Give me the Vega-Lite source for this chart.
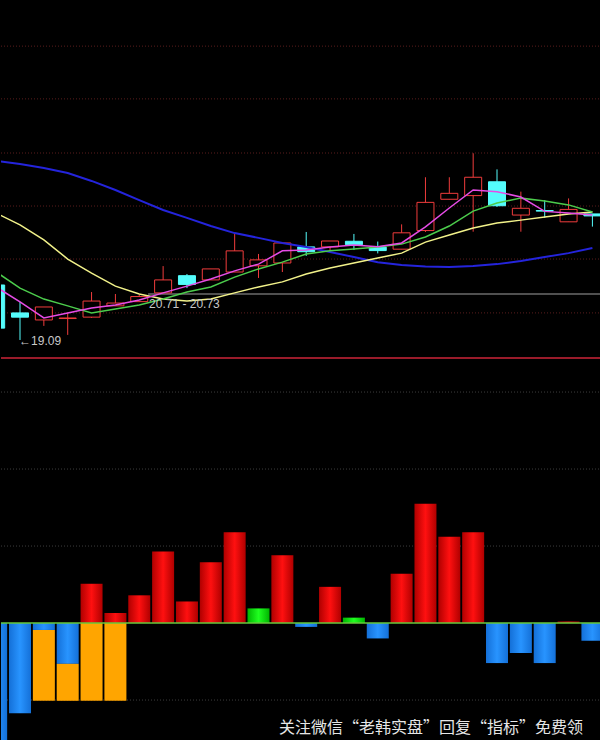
{
  "$schema": "https://vega.github.io/schema/vega-lite/v6.json",
  "background": "#000000",
  "padding": 0,
  "spacing": 0,
  "config": {"view": {"stroke": null}, "scale": {"continuousPadding": 0}},
  "datasets": {
    "k": [
      {"i":0,"o":21.04,"h":21.11,"l":19.44,"c":19.51,"m1":20.97,"m2":21.50,"m3":23.59,"m4":25.44},
      {"i":1,"o":20.05,"h":20.44,"l":19.09,"c":19.90,"m1":20.44,"m2":20.93,"m3":23.17,"m4":25.33},
      {"i":2,"o":19.80,"h":20.26,"l":19.59,"c":20.26,"m1":19.87,"m2":20.54,"m3":22.64,"m4":25.19},
      {"i":3,"o":19.85,"h":20.05,"l":19.27,"c":19.87,"m1":20.05,"m2":20.30,"m3":21.96,"m4":25.01},
      {"i":4,"o":19.90,"h":20.79,"l":19.87,"c":20.47,"m1":20.22,"m2":20.05,"m3":21.46,"m4":24.73},
      {"i":5,"o":20.30,"h":20.72,"l":20.30,"c":20.40,"m1":20.33,"m2":20.19,"m3":21.00,"m4":24.41},
      {"i":6,"o":20.45,"h":20.69,"l":20.44,"c":20.63,"m1":20.51,"m2":20.33,"m3":20.72,"m4":24.05},
      {"i":7,"o":20.76,"h":21.71,"l":20.76,"c":21.22,"m1":20.76,"m2":20.54,"m3":20.54,"m4":23.70},
      {"i":8,"o":21.37,"h":21.43,"l":20.93,"c":21.06,"m1":21.00,"m2":20.79,"m3":20.47,"m4":23.42},
      {"i":9,"o":21.22,"h":21.61,"l":21.22,"c":21.61,"m1":21.25,"m2":20.97,"m3":20.54,"m4":23.13},
      {"i":10,"o":21.50,"h":22.85,"l":21.50,"c":22.25,"m1":21.54,"m2":21.32,"m3":20.76,"m4":22.88},
      {"i":11,"o":21.72,"h":22.14,"l":21.29,"c":21.93,"m1":21.78,"m2":21.61,"m3":20.97,"m4":22.71},
      {"i":12,"o":21.82,"h":22.53,"l":21.50,"c":22.53,"m1":22.25,"m2":21.85,"m3":21.15,"m4":22.53},
      {"i":13,"o":22.39,"h":22.92,"l":22.07,"c":22.22,"m1":22.28,"m2":22.14,"m3":21.43,"m4":22.39},
      {"i":14,"o":22.39,"h":22.60,"l":22.28,"c":22.60,"m1":22.39,"m2":22.25,"m3":21.64,"m4":22.21},
      {"i":15,"o":22.59,"h":22.85,"l":22.28,"c":22.47,"m1":22.46,"m2":22.32,"m3":21.82,"m4":22.03},
      {"i":16,"o":22.38,"h":22.58,"l":22.16,"c":22.26,"m1":22.40,"m2":22.39,"m3":22.00,"m4":21.85},
      {"i":17,"o":22.31,"h":23.19,"l":22.31,"c":22.89,"m1":22.53,"m2":22.49,"m3":22.17,"m4":21.75},
      {"i":18,"o":22.97,"h":24.86,"l":22.92,"c":23.97,"m1":23.10,"m2":22.74,"m3":22.56,"m4":21.70},
      {"i":19,"o":24.08,"h":24.86,"l":24.08,"c":24.29,"m1":23.77,"m2":23.13,"m3":22.81,"m4":21.68},
      {"i":20,"o":24.21,"h":25.71,"l":22.93,"c":24.86,"m1":24.41,"m2":23.66,"m3":23.06,"m4":21.71},
      {"i":21,"o":24.70,"h":25.14,"l":23.81,"c":23.85,"m1":24.35,"m2":23.95,"m3":23.24,"m4":21.78},
      {"i":22,"o":23.52,"h":24.35,"l":22.93,"c":23.76,"m1":24.16,"m2":24.12,"m3":23.34,"m4":21.89},
      {"i":23,"o":23.68,"h":24.05,"l":23.42,"c":23.66,"m1":23.65,"m2":24.02,"m3":23.45,"m4":22.03},
      {"i":24,"o":23.28,"h":24.11,"l":23.28,"c":23.72,"m1":23.59,"m2":23.88,"m3":23.56,"m4":22.17},
      {"i":25,"o":23.56,"h":23.56,"l":23.11,"c":23.49,"m1":23.52,"m2":23.63,"m3":23.63,"m4":22.35}
    ],
    "grid1": [{"p":29.51},{"p":27.64},{"p":25.72},{"p":23.84},{"p":21.96},{"p":20.05}],
    "grid2": [{"v":3},{"v":2},{"v":1},{"v":-1}],
    "bars": [
      {"i":0,"a":0,"b":-1.6,"k":"blue"},
      {"i":1,"a":0,"b":-1.17,"k":"blue"},
      {"i":2,"a":0,"b":-0.09,"k":"blue"},
      {"i":2,"a":-0.09,"b":-1.01,"k":"orange"},
      {"i":3,"a":0,"b":-0.53,"k":"blue"},
      {"i":3,"a":-0.53,"b":-1.01,"k":"orange"},
      {"i":4,"a":0,"b":-1.01,"k":"orange"},
      {"i":4,"a":0,"b":0.51,"k":"red"},
      {"i":5,"a":0,"b":-1.01,"k":"orange"},
      {"i":5,"a":0,"b":0.13,"k":"red"},
      {"i":6,"a":0,"b":0.36,"k":"red"},
      {"i":7,"a":0,"b":0.93,"k":"red"},
      {"i":8,"a":0,"b":0.28,"k":"red"},
      {"i":9,"a":0,"b":0.79,"k":"red"},
      {"i":10,"a":0,"b":1.18,"k":"red"},
      {"i":11,"a":0,"b":0.19,"k":"green"},
      {"i":12,"a":0,"b":0.88,"k":"red"},
      {"i":13,"a":0,"b":-0.05,"k":"blue"},
      {"i":14,"a":0,"b":0.47,"k":"red"},
      {"i":15,"a":0,"b":0.07,"k":"green"},
      {"i":16,"a":0,"b":-0.2,"k":"blue"},
      {"i":17,"a":0,"b":0.64,"k":"red"},
      {"i":18,"a":0,"b":1.55,"k":"red"},
      {"i":19,"a":0,"b":1.12,"k":"red"},
      {"i":20,"a":0,"b":1.18,"k":"red"},
      {"i":21,"a":0,"b":-0.52,"k":"blue"},
      {"i":22,"a":0,"b":-0.39,"k":"blue"},
      {"i":23,"a":0,"b":-0.52,"k":"blue"},
      {"i":24,"a":0,"b":0.02,"k":"red"},
      {"i":25,"a":0,"b":-0.23,"k":"blue"}
    ]
  },
  "vconcat": [
    {
      "width": 600,
      "height": 360,
      "layer": [
        {
          "data": {"name": "grid1"},
          "mark": {"type": "rule", "color": "#5a1c1c", "strokeDash": [1, 2], "strokeWidth": 1},
          "encoding": {
            "x": {"datum": 0.203, "type": "quantitative", "axis": null, "scale": {"domain": [0.203, 25.36], "nice": false, "zero": false, "padding": 0}},
            "x2": {"datum": 25.36},
            "y": {"field": "p", "type": "quantitative", "axis": null, "scale": {"domain": [18.38, 31.146], "nice": false, "zero": false, "padding": 0}}
          }
        },
        {
          "data": {"values": [{}]},
          "mark": {"type": "rule", "color": "#a0a0a0", "strokeWidth": 1},
          "encoding": {
            "x": {"datum": 6.37, "type": "quantitative"},
            "x2": {"datum": 25.36},
            "y": {"datum": 20.72, "type": "quantitative"}
          }
        },
        {
          "data": {"values": [{}]},
          "mark": {"type": "rule", "color": "#9a1b2a", "strokeWidth": 2},
          "encoding": {
            "x": {"datum": 0.203, "type": "quantitative"},
            "x2": {"datum": 25.36},
            "y": {"datum": 18.451, "type": "quantitative"}
          }
        },
        {
          "data": {"name": "k"},
          "mark": {"type": "rule", "strokeWidth": 1, "clip": true},
          "encoding": {
            "x": {"field": "i", "type": "quantitative"},
            "y": {"field": "l", "type": "quantitative"},
            "y2": {"field": "h"},
            "color": {"condition": {"test": "datum.c > datum.o", "value": "#f03c3c"}, "value": "#54fcfc"}
          }
        },
        {
          "data": {"name": "k"},
          "mark": {"type": "bar", "width": 17, "strokeWidth": 1, "clip": true},
          "encoding": {
            "x": {"field": "i", "type": "quantitative"},
            "y": {"field": "o", "type": "quantitative"},
            "y2": {"field": "c"},
            "fill": {"condition": {"test": "datum.c > datum.o", "value": "#000000"}, "value": "#54fcfc"},
            "stroke": {"condition": {"test": "datum.c > datum.o", "value": "#f03c3c"}, "value": "#54fcfc"}
          }
        },
        {
          "data": {"name": "k"},
          "mark": {"type": "line", "color": "#2424dc", "strokeWidth": 2, "clip": true},
          "encoding": {"x": {"field": "i", "type": "quantitative"}, "y": {"field": "m4", "type": "quantitative"}}
        },
        {
          "data": {"name": "k"},
          "mark": {"type": "line", "color": "#f2f28a", "strokeWidth": 1.5, "clip": true},
          "encoding": {"x": {"field": "i", "type": "quantitative"}, "y": {"field": "m3", "type": "quantitative"}}
        },
        {
          "data": {"name": "k"},
          "mark": {"type": "line", "color": "#4ccc4c", "strokeWidth": 1.5, "clip": true},
          "encoding": {"x": {"field": "i", "type": "quantitative"}, "y": {"field": "m2", "type": "quantitative"}}
        },
        {
          "data": {"name": "k"},
          "mark": {"type": "line", "color": "#e64ce6", "strokeWidth": 1.5, "clip": true},
          "encoding": {"x": {"field": "i", "type": "quantitative"}, "y": {"field": "m1", "type": "quantitative"}}
        },
        {
          "data": {"values": [{}]},
          "mark": {"type": "text", "text": "20.71 - 20.73", "color": "#c8c8c8", "font": "Liberation Sans", "fontSize": 12, "align": "left", "baseline": "middle"},
          "encoding": {
            "x": {"datum": 6.41, "type": "quantitative"},
            "y": {"datum": 20.37, "type": "quantitative"}
          }
        },
        {
          "data": {"values": [{}]},
          "mark": {"type": "text", "text": "←19.09", "color": "#c8c8c8", "font": "Liberation Sans", "fontSize": 12, "align": "left", "baseline": "middle"},
          "encoding": {
            "x": {"datum": 0.96, "type": "quantitative"},
            "y": {"datum": 19.05, "type": "quantitative"}
          }
        }
      ]
    },
    {
      "width": 600,
      "height": 380,
      "layer": [
        {
          "data": {"name": "grid2"},
          "mark": {"type": "rule", "color": "#3c3c3c", "strokeDash": [1, 2], "strokeWidth": 1},
          "encoding": {
            "x": {"datum": 0.203, "type": "quantitative", "axis": null, "scale": {"domain": [0.203, 25.36], "nice": false, "zero": false, "padding": 0}},
            "x2": {"datum": 25.36},
            "y": {"field": "v", "type": "quantitative", "axis": null, "scale": {"domain": [-1.519, 3.416], "nice": false, "zero": false, "padding": 0}}
          }
        },
        {
          "data": {"name": "bars"},
          "transform": [{"filter": "datum.k == 'red'"}],
          "mark": {"type": "bar", "width": 22, "clip": true, "color": {"gradient": "linear", "x1": 0, "x2": 1, "y1": 0, "y2": 0, "stops": [{"offset": 0, "color": "#b00000"}, {"offset": 0.5, "color": "#ff1010"}, {"offset": 1, "color": "#b00000"}]}},
          "encoding": {"x": {"field": "i", "type": "quantitative"}, "y": {"field": "a", "type": "quantitative"}, "y2": {"field": "b"}}
        },
        {
          "data": {"name": "bars"},
          "transform": [{"filter": "datum.k == 'blue'"}],
          "mark": {"type": "bar", "width": 22, "clip": true, "color": {"gradient": "linear", "x1": 0, "x2": 1, "y1": 0, "y2": 0, "stops": [{"offset": 0, "color": "#1470d8"}, {"offset": 0.5, "color": "#2894ff"}, {"offset": 1, "color": "#1470d8"}]}},
          "encoding": {"x": {"field": "i", "type": "quantitative"}, "y": {"field": "a", "type": "quantitative"}, "y2": {"field": "b"}}
        },
        {
          "data": {"name": "bars"},
          "transform": [{"filter": "datum.k == 'orange'"}],
          "mark": {"type": "bar", "width": 22, "clip": true, "color": "#ffa500"},
          "encoding": {"x": {"field": "i", "type": "quantitative"}, "y": {"field": "a", "type": "quantitative"}, "y2": {"field": "b"}}
        },
        {
          "data": {"name": "bars"},
          "transform": [{"filter": "datum.k == 'green'"}],
          "mark": {"type": "bar", "width": 22, "clip": true, "color": {"gradient": "linear", "x1": 0, "x2": 1, "y1": 0, "y2": 0, "stops": [{"offset": 0, "color": "#00b400"}, {"offset": 0.5, "color": "#20ff20"}, {"offset": 1, "color": "#00b400"}]}},
          "encoding": {"x": {"field": "i", "type": "quantitative"}, "y": {"field": "a", "type": "quantitative"}, "y2": {"field": "b"}}
        },
        {
          "data": {"values": [{}]},
          "mark": {"type": "rule", "color": "#66c83c", "strokeWidth": 1.5},
          "encoding": {
            "x": {"datum": 0.203, "type": "quantitative"},
            "x2": {"datum": 25.36},
            "y": {"datum": 0, "type": "quantitative"}
          }
        },
        {
          "data": {"values": [{}]},
          "mark": {"type": "text", "text": "关注微信“老韩实盘”回复“指标”免费领", "color": "#e6e6e6", "font": "Noto Sans CJK SC", "fontSize": 16, "align": "left", "baseline": "middle"},
          "encoding": {
            "x": {"datum": 11.86, "type": "quantitative"},
            "y": {"datum": -1.364, "type": "quantitative"}
          }
        }
      ]
    }
  ]
}
